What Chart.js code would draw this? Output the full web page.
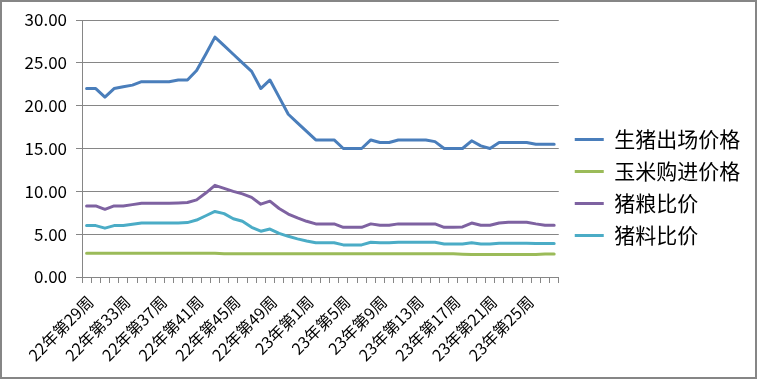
<!DOCTYPE html>
<html>
<head>
<meta charset="utf-8">
<script src="https://cdn.jsdelivr.net/npm/chart.js@4/dist/chart.umd.min.js"></script>
<style>
html,body{margin:0;padding:0;background:#fff;}
canvas{display:block;}
</style>
</head>
<body>
<canvas id="c" width="757" height="379"></canvas>
<script>
const categories = [
  "22年第29周","22年第30周","22年第31周","22年第32周","22年第33周","22年第34周","22年第35周","22年第36周",
  "22年第37周","22年第38周","22年第39周","22年第40周","22年第41周","22年第42周","22年第43周","22年第44周",
  "22年第45周","22年第46周","22年第47周","22年第48周","22年第49周","22年第50周","22年第51周","22年第52周",
  "23年第1周","23年第2周","23年第3周","23年第4周","23年第5周","23年第6周","23年第7周","23年第8周",
  "23年第9周","23年第10周","23年第11周","23年第12周","23年第13周","23年第14周","23年第15周","23年第16周",
  "23年第17周","23年第18周","23年第19周","23年第20周","23年第21周","23年第22周","23年第23周","23年第24周",
  "23年第25周","23年第26周","23年第27周","23年第28周"
];
const seriesNames = ["生猪出场价格","玉米购进价格","猪粮比价","猪料比价"];
const hogPrice = [22.0,22.0,21.0,22.0,22.2,22.4,22.8,22.8,22.8,22.8,23.0,23.0,24.1,26.0,28.0,27.0,26.0,25.0,24.0,22.0,23.0,21.0,19.0,18.0,17.0,16.0,16.0,16.0,15.0,15.0,15.0,16.0,15.7,15.7,16.0,16.0,16.0,16.0,15.8,15.0,15.0,15.0,15.9,15.3,15.0,15.7,15.7,15.7,15.7,15.5,15.5,15.5];
const cornPrice = [2.78,2.78,2.78,2.78,2.78,2.78,2.78,2.78,2.78,2.78,2.78,2.78,2.78,2.78,2.78,2.72,2.72,2.72,2.72,2.72,2.72,2.72,2.72,2.72,2.72,2.72,2.72,2.72,2.72,2.72,2.72,2.72,2.72,2.72,2.72,2.72,2.72,2.72,2.72,2.72,2.72,2.66,2.62,2.62,2.62,2.62,2.62,2.62,2.62,2.62,2.68,2.68];
const hogGrainRatio = [8.3,8.3,7.9,8.3,8.3,8.45,8.6,8.6,8.6,8.6,8.65,8.7,9.0,9.8,10.7,10.35,10.0,9.7,9.3,8.5,8.85,8.0,7.35,6.9,6.5,6.2,6.2,6.2,5.8,5.8,5.8,6.2,6.05,6.05,6.2,6.2,6.2,6.2,6.2,5.8,5.8,5.85,6.3,6.05,6.05,6.3,6.4,6.4,6.4,6.2,6.05,6.05];
const hogFeedRatio = [6.0,6.0,5.7,6.0,6.0,6.15,6.3,6.3,6.3,6.3,6.3,6.35,6.65,7.15,7.65,7.4,6.8,6.5,5.8,5.35,5.6,5.1,4.75,4.45,4.2,4.0,4.0,4.0,3.75,3.75,3.75,4.05,4.0,4.0,4.05,4.05,4.05,4.05,4.05,3.85,3.85,3.85,4.0,3.85,3.85,3.95,3.95,3.95,3.95,3.9,3.9,3.9];
const yTicks = [0,5,10,15,20,25,30];
const labelEvery = 4;

const colors = ["#4A7EBB","#9BBB59","#7E62A1","#4BACC6"];
const FONT = "'Noto Sans CJK SC','Noto Sans',sans-serif";

const mk = (i, data) => ({
  label: seriesNames[i], data,
  borderColor: colors[i], backgroundColor: colors[i],
  borderWidth: 3, pointRadius: 0, tension: 0,
  borderJoinStyle: 'round', borderCapStyle: 'round'
});

const borderPlugin = {
  id: 'outerBorder',
  afterDraw(chart) {
    const ctx = chart.ctx;
    ctx.save();
    ctx.strokeStyle = '#868686';
    ctx.lineWidth = 2;
    ctx.strokeRect(1, 1, chart.width - 2, chart.height - 2);
    ctx.restore();
  }
};
const legendShift = {
  id: 'legendShift',
  afterLayout(chart) {
    const L = chart.legend;
    if (L) { L.left += 5; L.right += 5; L.top -= 12; L.bottom -= 12; }
  }
};

new Chart(document.getElementById('c'), {
  type: 'line',
  data: {
    labels: categories,
    datasets: [mk(0, hogPrice), mk(1, cornPrice), mk(2, hogGrainRatio), mk(3, hogFeedRatio)]
  },
  options: {
    responsive: false,
    animation: false,
    layout: { padding: { top: 20, right: 12, bottom: 0, left: 0 } },
    plugins: {
      tooltip: { enabled: false },
      legend: {
        position: 'right',
        labels: {
          usePointStyle: true,
          pointStyle: 'line',
          pointStyleWidth: 29,
          padding: 11,
          color: '#000',
          font: { family: FONT, size: 21 }
        }
      }
    },
    scales: {
      x: {
        offset: true,
        grid: { display: true, drawOnChartArea: false, drawTicks: true, tickLength: 6, offset: true, color: '#868686' },
        border: { display: true, color: '#868686', width: 1 },
        afterFit(scale) { scale.height = 102; },
        ticks: {
          autoSkip: false, minRotation: 45, maxRotation: 45, padding: 9, labelOffset: 4,
          color: '#000', font: { family: FONT, size: 16 },
          callback(v, idx) { return idx % labelEvery === 0 ? categories[idx] : ''; }
        }
      },
      y: {
        min: yTicks[0], max: yTicks[yTicks.length - 1],
        grid: { color: '#868686', lineWidth: 1, drawTicks: true, tickLength: 6 },
        border: { display: true, color: '#868686', width: 1 },
        afterFit(scale) { scale.width = 82; },
        afterBuildTicks(scale) { scale.ticks = yTicks.map(v => ({ value: v })); },
        ticks: {
          padding: 9, color: '#000', font: { family: FONT, size: 17 },
          callback(v) { return Number(v).toFixed(2); }
        }
      }
    }
  },
  plugins: [borderPlugin, legendShift]
});
</script>
</body>
</html>
